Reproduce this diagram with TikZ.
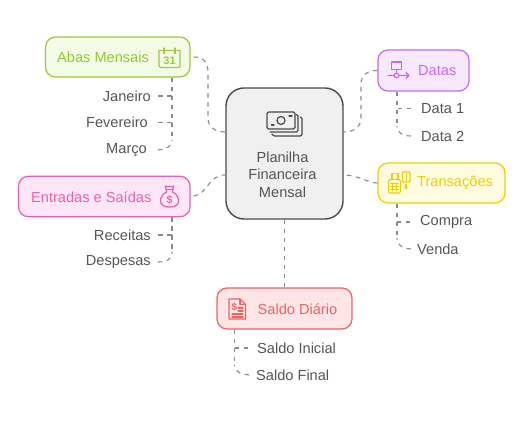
\documentclass[tikz,border=0pt]{standalone}
\usepackage{fontspec}
\setmainfont{Liberation Sans}
\definecolor{gs}{HTML}{9ACB3C}\definecolor{gf}{HTML}{F3FBE6}\definecolor{gt}{HTML}{92C935}
\definecolor{ps}{HTML}{EC5FB0}\definecolor{pf}{HTML}{FDE6F5}
\definecolor{vs}{HTML}{C868EE}\definecolor{vf}{HTML}{F7E9FD}
\definecolor{ys}{HTML}{EBD000}\definecolor{yf}{HTML}{FEFBE0}
\definecolor{rs}{HTML}{EC6265}\definecolor{rf}{HTML}{FFE5E5}
\definecolor{cs}{HTML}{4A4A4A}\definecolor{cf}{HTML}{F0F0F0}
\definecolor{tx}{HTML}{555555}\definecolor{dl}{HTML}{8A8A8A}
\tikzset{
  box/.style={draw,rounded corners=10pt,line width=1.2pt,inner sep=0pt},
  lab/.style={font=\fontsize{14.6}{17.5}\selectfont,inner sep=0pt,anchor=west},
  leaf/.style={font=\fontsize{14.6}{17.5}\selectfont,text=tx,inner ysep=2pt,inner xsep=#1},
  leaf/.default=7pt,
  conn/.style={draw=dl,line width=1.1pt,dash pattern=on 4.5pt off 4.5pt},
  icon/.style={line width=1.2pt,line join=round,line cap=round},
}
\begin{document}
\begin{tikzpicture}[x=1pt,y=-1pt]
\useasboundingbox (0,0) rectangle (524,420);
% boxes
\node[box,draw=cs,fill=cf,line width=1.4pt,rounded corners=18pt,minimum width=117pt,minimum height=131pt] (central) at (284.5,153.5) {};
\node[box,draw=gs,fill=gf,minimum width=144.5pt,minimum height=40pt] (abas) at (117.75,57) {};
\node[box,draw=ps,fill=pf,minimum width=171.5pt,minimum height=40.5pt] (entradas) at (104.25,196.5) {};
\node[box,draw=vs,fill=vf,minimum width=91pt,minimum height=41pt] (datas) at (423.5,70.5) {};
\node[box,draw=ys,fill=yf,minimum width=127pt,minimum height=40pt] (trans) at (441.5,183) {};
\node[box,draw=rs,fill=rf,minimum width=135pt,minimum height=41pt] (saldo) at (284.5,308.5) {};
% box labels
\node[lab,text=gt] (labas) at (57,57) {Abas Mensais};
\node[lab,text=ps] (lentr) at (31,197) {Entradas e Saídas};
\node[lab,text=vs] (ldat) at (418,71) {Datas};
\node[lab,text=ys] (ltra) at (417,183) {Transações};
\node[lab,text=rs] (lsal) at (257.5,309) {Saldo Diário};
\node[font=\fontsize{14.6}{17.6}\selectfont,text=tx,align=center,inner sep=0pt] (lcen) at (282.5,174.5) {Planilha\\Financeira\\Mensal};
% leaves
\node[leaf=7pt,anchor=east] (jan) at (158,96) {Janeiro};
\node[leaf=10pt,anchor=east] (fev) at (158,122.5) {Fevereiro};
\node[leaf=11pt,anchor=east] (mar) at (158,150) {Março};
\node[leaf=7pt,anchor=east] (rec) at (158,235) {Receitas};
\node[leaf=7pt,anchor=east] (des) at (158,262) {Despesas};
\node[leaf=10pt,anchor=west] (d1) at (411,108.5) {Data 1};
\node[leaf=10pt,anchor=west] (d2) at (411,136) {Data 2};
\node[leaf=10pt,anchor=west] (com) at (410,222) {Compra};
\node[leaf=6pt,anchor=west] (ven) at (411,249) {Venda};
\node[leaf=9pt,anchor=west] (si) at (248,348) {Saldo Inicial};
\node[leaf=7pt,anchor=west] (sf) at (249,375) {Saldo Final};
% trunk positions
\coordinate (ta) at (172,0);\coordinate (tv) at (397,0);\coordinate (ts) at (234.5,0);
\coordinate (xl) at (208,0);\coordinate (xr) at (361,0);
\coordinate (y1) at (0,132);\coordinate (y2) at (0,175);
% main connectors
\draw[conn,shorten <=3pt] (abas.east) .. controls (203,57) and (208,62) .. (208,72) -- (208,118) .. controls (208,126) and (214,132) .. (central.west |- y1);
\draw[conn,shorten <=3pt] (entradas.east) .. controls (208,194) and (208,175) .. (central.west |- y2);
\draw[conn] (datas.west) .. controls (367,70) and (361,76) .. (361,84) -- (361,118) .. controls (361,126) and (355,132) .. (central.east |- y1);
\draw[conn] (trans.west) .. controls (368,183) and (358,175) .. (central.east |- y2);
\draw[conn] (central.south) -- (saldo.north);
% leaf connectors
\draw[conn] (ta |- abas.south) -- (172,140);
\draw[conn] (jan.east) -- (ta |- jan.east);
\draw[conn] (fev.east) -- (ta |- fev.east);
\draw[conn] (mar.east) .. controls (166,149) and (172,147) .. (172,140);
\draw[conn] (ta |- entradas.south) -- (172,252);
\draw[conn] (rec.east) -- (ta |- rec.east);
\draw[conn] (des.east) .. controls (166,262) and (172,260) .. (172,252);
\draw[conn] (tv |- datas.south) -- (397,126);
\draw[conn] (d1.west) -- (tv |- d1.west);
\draw[conn] (d2.west) .. controls (403,136) and (397,133) .. (397,126);
\draw[conn] (tv |- trans.south) -- (397,238);
\draw[conn] (com.west) -- (tv |- com.west);
\draw[conn] (ven.west) .. controls (403,248) and (397,246) .. (397,238);
\draw[conn] (ts |- saldo.south) -- (234.5,365);
\draw[conn] (si.west) -- (ts |- si.west);
\draw[conn] (sf.west) .. controls (241,374) and (234.5,372) .. (234.5,365);
% calendar icon
\draw[icon,gs] (162,50.5) -- (159,50.5) -- (159,66) .. controls (159,67) and (159.5,67.5) .. (160.5,67.5) -- (178,67.5) .. controls (179,67.5) and (180,67) .. (180,66) -- (180,50.5) -- (177,50.5);
\draw[icon,gs] (164,48) -- (164,53.5) (164,50.5) -- (175,50.5) (175,48) -- (175,53.5);
\node[font=\bfseries\fontsize{11}{11}\selectfont,text=gs,inner sep=0pt] (cal) at (169.5,60.5) {31};
% money bag icon
\begin{scope}[icon,ps]
\draw (166.5,192) -- (165.5,186) -- (168,187) -- (169.5,186) -- (171,187) -- (173.5,186) -- (172.5,192);
\draw (166,189.5) -- (173,189.5);
\draw (166.5,192) .. controls (162,194) and (160.5,198) .. (160.5,201) .. controls (160.5,205) and (164,207) .. (169.5,207) .. controls (175,207) and (178.5,205) .. (178.5,201) .. controls (178.5,198) and (177,194) .. (172.5,192);
\node[font=\bfseries\fontsize{10.5}{10.5}\selectfont,text=ps,inner sep=0pt] (dol) at (169.5,199.5) {\$};
\end{scope}
% flow icon
\begin{scope}[icon,vs]
\draw (391.5,62) rectangle (401.5,69.5);
\draw (396.5,69.5) -- (396.5,76);
\draw (388,75.5) -- (409,75.5) (406,72.5) -- (409,75.5) -- (406,78.5);
\draw[fill=vf] (396.5,75.5) circle (2.3pt);
\end{scope}
% till icon
\begin{scope}[icon,ys]
\draw[rounded corners=1.5pt] (388.5,179.5) rectangle (400.5,193);
\draw (392,179.5) -- (392,173.5) -- (398,173.5) -- (398,179.5);
\draw[line width=.9pt] (390.5,183) -- (398.5,183) (390.5,186) -- (398.5,186) (390.5,189) -- (398.5,189) (392.5,183) -- (392.5,191) (396.5,183) -- (396.5,191);
\draw[rounded corners=1pt] (402.5,172) rectangle (410,182);
\draw[line width=.9pt] (406,173.5) -- (406,180.5);
\draw (406,184.5) -- (406,187);
\fill (403.5,186.5) -- (408.5,186.5) -- (406,189.5) -- cycle;
\end{scope}
% invoice icon
\begin{scope}[icon,rs]
\draw (229,299) -- (240,299) -- (245.5,304.5) -- (245.5,319) -- (229,319) -- cycle;
\draw (240,299) -- (240,304.5) -- (245.5,304.5);
\draw (232,314) -- (243,314) (232,317) -- (243,317);
\draw (238,308) -- (243,308) (238,311) -- (243,311);
\node[font=\bfseries\fontsize{10}{10}\selectfont,text=rs,inner sep=0pt] (dol2) at (234.5,307) {\$};
\end{scope}
% banknotes icon
\begin{scope}[icon,cs]
\draw[line width=1.2pt,rounded corners=1.5pt] (267,112) rectangle (295,129);
\draw (271.5,125) -- (274,125) (289,116) -- (292,116);
\draw (281,120.5) circle (4pt);
\draw[rounded corners=1.5pt] (296.5,114.5) -- (298,114.5) -- (298,132) -- (270,132);
\draw[rounded corners=1.5pt] (300.5,117) -- (302,117) -- (302,136) -- (273,136) -- (272,134);
\end{scope}
\end{tikzpicture}
\end{document}
